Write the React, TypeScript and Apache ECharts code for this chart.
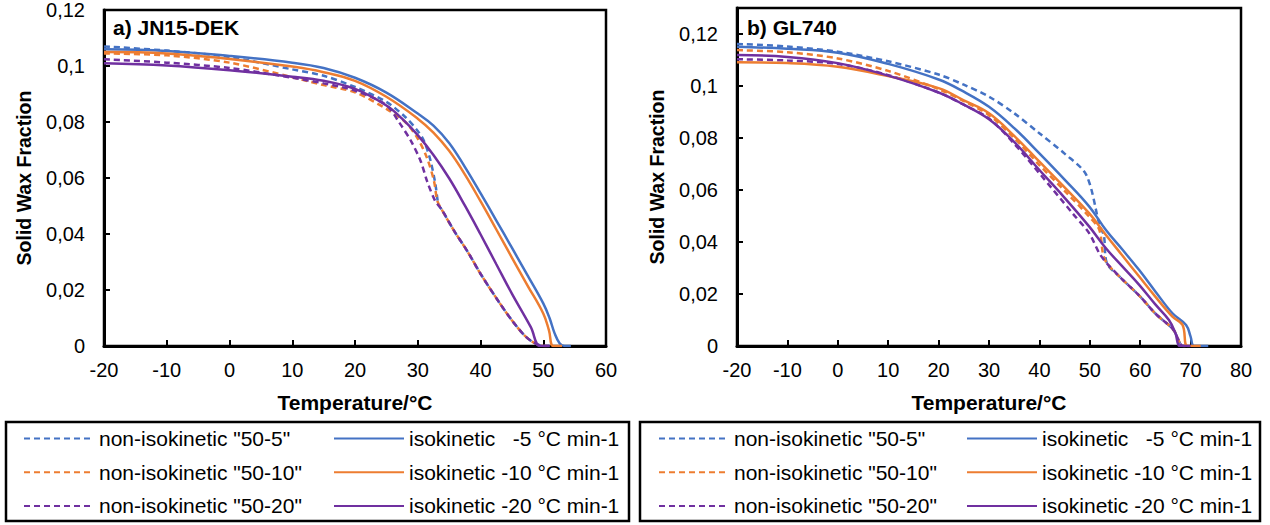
import React, { useEffect, useRef } from "react";
import * as echarts from "echarts";

const FONT = '"Liberation Sans", Arial, sans-serif';

// Legend names
const NAMES_NONISO = ['non-isokinetic "50-5"', 'non-isokinetic "50-10"', 'non-isokinetic "50-20"'];
const NAMES_ISO = ["isokinetic   -5 °C min-1", "isokinetic -10 °C min-1", "isokinetic -20 °C min-1"];
const COLORS = ["#4472C4", "#ED7D31", "#7030A0"];

const PANEL_TITLES = ["a) JN15-DEK", "b) GL740"];
const X_NAME = "Temperature/°C";
const Y_NAME = "Solid Wax Fraction";

// ---- a) JN15-DEK : [temperature °C, solid wax fraction]
const jnTail: [number, number][] = [
  [33.8, 0.0488], [35.8, 0.0411], [38, 0.0335], [40, 0.0258], [43, 0.0155], [45, 0.0092],
  [47, 0.0038], [48.5, 0.0012], [50, 0], [51, 0],
];
const jnNonIso5: [number, number][] = [
  [-20, 0.107], [-10, 0.1055], [0, 0.1032], [10, 0.0988], [15, 0.0965], [20, 0.0925],
  [25, 0.0872], [28, 0.0818], [30, 0.0768], [31, 0.0732], [32, 0.0665], [32.8, 0.058],
  [33.3, 0.0505], ...jnTail,
];
const jnNonIso10: [number, number][] = [
  [-20, 0.1045], [-10, 0.1038], [0, 0.1012], [10, 0.096], [15, 0.0932], [20, 0.0906],
  [25, 0.0847], [28, 0.08], [30, 0.0741], [31.5, 0.067], [32.6, 0.0588], [33.1, 0.052],
  ...jnTail,
];
const jnNonIso20: [number, number][] = [
  [-20, 0.1024], [-10, 0.1012], [0, 0.0993], [10, 0.0958], [15, 0.0938], [20, 0.0912],
  [25, 0.086], [27, 0.08], [29, 0.0729], [30.5, 0.0658], [31.5, 0.0588], [32.8, 0.0517],
  ...jnTail,
];
const jnIso5: [number, number][] = [
  [-20, 0.106], [-10, 0.1054], [0, 0.1036], [10, 0.1012], [15, 0.0993], [20, 0.0958],
  [25, 0.0905], [30, 0.083], [32.5, 0.0787], [35, 0.0725], [37.5, 0.064], [40, 0.0546],
  [42.5, 0.0449], [45, 0.0351], [47.5, 0.0252], [50, 0.0152], [51, 0.01], [51.8, 0.0046],
  [52.6, 0.001], [53.4, 0], [54.4, 0],
];
const jnIso10: [number, number][] = [
  [-20, 0.105], [-10, 0.1045], [0, 0.1025], [10, 0.0998], [15, 0.0978], [20, 0.0947],
  [25, 0.089], [30, 0.0812], [32.5, 0.0762], [35, 0.0697], [37.5, 0.0613], [40, 0.0517],
  [42.5, 0.0417], [45, 0.0316], [47.5, 0.0216], [50, 0.0116], [50.9, 0.0057], [51.6, 0],
  [53, 0],
];
const jnIso20: [number, number][] = [
  [-20, 0.101], [-10, 0.1002], [0, 0.0985], [10, 0.0962], [15, 0.0947], [20, 0.0918],
  [25, 0.0859], [27.5, 0.0812], [30, 0.0753], [32.5, 0.0682], [35, 0.0599], [37.5, 0.0502],
  [40, 0.0399], [42.5, 0.0293], [45, 0.0187], [48, 0.0068], [49.5, 0], [51, 0],
];

// ---- b) GL740
const glTail: [number, number][] = [
  [53.4, 0.0318], [56, 0.0265], [60, 0.019], [63, 0.0125], [66.6, 0.0062], [67.9, 0.001],
  [68.5, 0], [69, 0],
];
const glNonIso5: [number, number][] = [
  [-20, 0.1162], [-10, 0.1152], [0, 0.1132], [10, 0.1095], [20, 0.1044], [25, 0.1005],
  [30, 0.0959], [35, 0.0895], [40, 0.0818], [45, 0.074], [49.3, 0.0658], [52, 0.046],
  [52.8, 0.0425], ...glTail,
];
const glNonIso10: [number, number][] = [
  [-20, 0.1138], [-10, 0.113], [0, 0.1106], [10, 0.1058], [20, 0.0988], [25, 0.0942],
  [30, 0.0888], [35, 0.08], [40, 0.0696], [45, 0.0597], [49.9, 0.0497], [51.9, 0.0446],
  [52.6, 0.0356], ...glTail,
];
const glNonIso20: [number, number][] = [
  [-20, 0.1103], [-10, 0.1098], [0, 0.1085], [10, 0.1042], [20, 0.0975], [25, 0.0928],
  [30, 0.0875], [35, 0.0778], [40, 0.0664], [46.6, 0.051], [49.9, 0.0433], [51.9, 0.0356],
  ...glTail,
];
const glIso5: [number, number][] = [
  [-20, 0.1151], [-10, 0.1143], [0, 0.1128], [10, 0.1085], [20, 0.1025], [25, 0.0978],
  [30, 0.092], [35, 0.0838], [40, 0.0741], [45, 0.064], [49.9, 0.0536], [53.2, 0.0446],
  [56.5, 0.037], [59.8, 0.0292], [63, 0.021], [66.4, 0.0126], [69.1, 0.0081], [70, 0.0036],
  [70.7, 0], [73.5, 0],
];
const glIso10: [number, number][] = [
  [-20, 0.1091], [-10, 0.1088], [0, 0.1074], [10, 0.1038], [20, 0.0992], [25, 0.0945],
  [30, 0.0895], [35, 0.0808], [40, 0.0709], [45, 0.061], [49.9, 0.051], [53.2, 0.0427],
  [56.5, 0.0347], [59.8, 0.0267], [63, 0.019], [66.4, 0.0113], [68.4, 0.0081], [69.4, 0],
  [72, 0],
];
const glIso20: [number, number][] = [
  [-20, 0.1119], [-10, 0.1112], [0, 0.1088], [10, 0.104], [20, 0.0975], [25, 0.0928],
  [30, 0.0872], [35, 0.0785], [40, 0.0677], [45, 0.057], [49.9, 0.0459], [53.2, 0.0376],
  [56.5, 0.0305], [59.8, 0.0235], [63, 0.016], [65.7, 0.01], [67, 0.0049], [67.9, 0],
  [70, 0],
];

const PANEL_DATA = [
  { nonIso: [jnNonIso5, jnNonIso10, jnNonIso20], iso: [jnIso5, jnIso10, jnIso20] },
  { nonIso: [glNonIso5, glNonIso10, glNonIso20], iso: [glIso5, glIso10, glIso20] },
];

const X_RANGES = [[-20, 60], [-20, 80]];
const Y_MAX = [0.12, 0.13];

export default function App() {
  const ref = useRef<HTMLDivElement>(null);

  useEffect(() => {
    if (!ref.current) return;
    const chart = echarts.init(ref.current, null, { renderer: "svg" });

    const grids = [
      { left: 104, top: 8, width: 502, height: 338 },
      { left: 737, top: 8, width: 504, height: 338 },
    ].map((g) => ({ ...g, show: true, borderColor: "#000", borderWidth: 2.5, containLabel: false }));

    const xAxes = X_RANGES.map((r, i) => ({
      type: "value",
      gridIndex: i,
      min: r[0],
      max: r[1],
      interval: 10,
      name: X_NAME,
      nameLocation: "middle",
      nameGap: 46,
      nameTextStyle: { fontFamily: FONT, fontSize: 21, fontWeight: "bold", color: "#000" },
      axisLine: { onZero: false, lineStyle: { color: "#000", width: 3 } },
      axisTick: { inside: true, length: 6, lineStyle: { color: "#000", width: 2 } },
      axisLabel: { fontFamily: FONT, fontSize: 20, color: "#000", margin: 14 },
      splitLine: { show: false },
    }));

    const yAxes = Y_MAX.map((m, i) => ({
      type: "value",
      gridIndex: i,
      min: 0,
      max: m,
      interval: 0.02,
      name: Y_NAME,
      nameLocation: "middle",
      nameGap: 70,
      nameTextStyle: { fontFamily: FONT, fontSize: 19.5, fontWeight: "bold", color: "#000" },
      axisLine: { onZero: false, lineStyle: { color: "#000", width: 3 } },
      axisTick: { inside: true, length: 6, lineStyle: { color: "#000", width: 2 } },
      axisLabel: {
        fontFamily: FONT,
        fontSize: 20,
        color: "#000",
        margin: 19,
        showMaxLabel: i === 0,
        formatter: (v: number) => String(Number(v.toFixed(2))).replace(".", ","),
      },
      splitLine: { show: false },
    }));

    const series: any[] = [];
    PANEL_DATA.forEach((p, pi) => {
      p.nonIso.forEach((d, k) => {
        series.push({
          type: "line",
          name: NAMES_NONISO[k],
          xAxisIndex: pi,
          yAxisIndex: pi,
          data: d,
          symbol: "none",
          showSymbol: false,
          smooth: 0.3,
          lineStyle: { color: COLORS[k], width: 2.5, type: [6, 4] },
          itemStyle: { color: COLORS[k] },
        });
      });
      p.iso.forEach((d, k) => {
        series.push({
          type: "line",
          name: NAMES_ISO[k],
          xAxisIndex: pi,
          yAxisIndex: pi,
          data: d,
          symbol: "none",
          showSymbol: false,
          smooth: 0.4,
          lineStyle: { color: COLORS[k], width: 2.5, type: "solid" },
          itemStyle: { color: COLORS[k] },
        });
      });
    });

    const legendBase = {
      orient: "vertical",
      top: 428,
      itemWidth: 70,
      itemHeight: 20,
      itemGap: 12.7,
      padding: 0,
      selectedMode: false,
      itemStyle: { color: "rgba(0,0,0,0)", borderColor: "rgba(0,0,0,0)", borderWidth: 0, opacity: 0 },
      textStyle: { fontFamily: FONT, fontSize: 21, color: "#000", lineHeight: 20 },
    };
    const legends = [
      { ...legendBase, left: 23, data: NAMES_NONISO },
      { ...legendBase, left: 333, data: NAMES_ISO },
      { ...legendBase, left: 658, data: NAMES_NONISO },
      { ...legendBase, left: 966, data: NAMES_ISO },
    ];

    chart.setOption({
      animation: false,
      backgroundColor: "#fff",
      title: [
        { text: PANEL_TITLES[0], left: 113, top: 17, padding: 0, textStyle: { fontFamily: FONT, fontSize: 21, fontWeight: "bold", color: "#000" } },
        { text: PANEL_TITLES[1], left: 747, top: 17, padding: 0, textStyle: { fontFamily: FONT, fontSize: 21, fontWeight: "bold", color: "#000" } },
      ],
      grid: grids,
      xAxis: xAxes,
      yAxis: yAxes,
      legend: legends,
      series,
      graphic: [
        { type: "rect", shape: { x: 6, y: 422, width: 623, height: 99 }, style: { fill: "none", stroke: "#000", lineWidth: 2.5 }, z: 0 },
        { type: "rect", shape: { x: 640, y: 422, width: 620, height: 99 }, style: { fill: "none", stroke: "#000", lineWidth: 2.5 }, z: 0 },
      ],
    });

    return () => chart.dispose();
  }, []);

  return (
    <div
      ref={ref}
      style={{ position: "absolute", left: 0, top: 0, width: 1270, height: 525, background: "#fff" }}
    />
  );
}
